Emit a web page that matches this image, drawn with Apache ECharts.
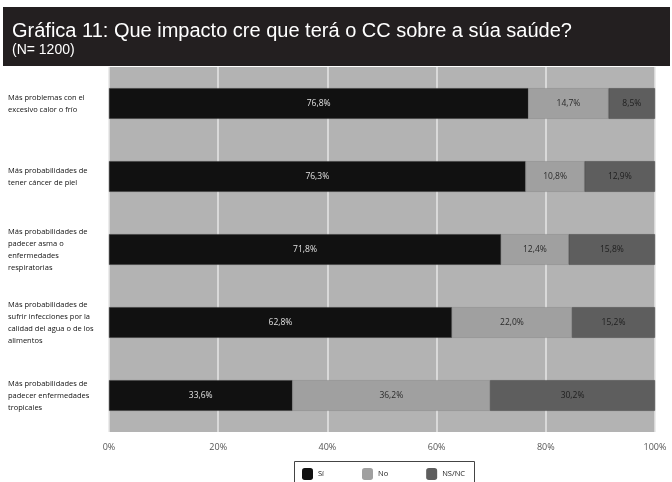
<!DOCTYPE html>
<html>
<head>
<meta charset="utf-8">
<script src="https://cdn.jsdelivr.net/npm/echarts@6/dist/echarts.min.js"></script>
<style>html,body{margin:0;padding:0;background:#fff}#c{width:672px;height:482px}</style>
</head>
<body>
<div id="c"></div>
<script>
var categories = [
  'Más problemas con el\nexcesivo calor o frío',
  'Más probabilidades de\ntener cáncer de piel',
  'Más probabilidades de\npadecer asma o\nenfermedades\nrespiratorias',
  'Más probabilidades de\nsufrir infecciones por la\ncalidad del agua o de los\nalimentos',
  'Más probabilidades de\npadecer enfermedades\ntropicales'
];
var si = [76.8, 76.3, 71.8, 62.8, 33.6];
var no = [14.7, 10.8, 12.4, 22.0, 36.2];
var nsnc = [8.5, 12.9, 15.8, 15.2, 30.2];
var xTicks = [0, 20, 40, 60, 80, 100];

var chart = echarts.init(document.getElementById('c'));
function lbl(color) {
  return {
    show: true, position: 'inside', color: color,
    fontFamily: 'Open Sans', fontSize: 8.5,
    formatter: function (p) { return p.value.toFixed(1).replace('.', ',') + '%'; }
  };
}
chart.setOption({
  animation: false,
  backgroundColor: '#fff',
  graphic: [
    { type: 'rect', left: 3, top: 7, shape: { width: 667, height: 59 }, style: { fill: '#231f20' } },
    { type: 'text', left: 12, top: 21, style: { text: 'Gráfica 11: Que impacto cre que terá o CC sobre a súa saúde?', fill: '#fff', font: '20px "Liberation Sans", Arial, sans-serif' } },
    { type: 'text', left: 12, top: 43, style: { text: '(N= 1200)', fill: '#fff', font: '14px "Liberation Sans", Arial, sans-serif' } },
    { type: 'rect', left: 292, top: 459, shape: { width: 180, height: 21 }, style: { fill: 'none', stroke: '#444', lineWidth: 1 } }
  ],
  grid: { left: 109, right: 17, top: 67, bottom: 50, show: true, backgroundColor: '#b3b3b3', borderWidth: 0 },
  legend: {
    top: 463, left: 297, itemWidth: 11, itemHeight: 12, itemGap: 38,
    textStyle: { fontFamily: 'Open Sans', fontSize: 7.5, color: '#222' },
    itemStyle: { borderWidth: 0 },
    data: ['Sí', 'No', 'NS/NC']
  },
  xAxis: {
    type: 'value', min: 0, max: 100, interval: 20,
    axisLine: { show: false }, axisTick: { show: false },
    splitLine: { lineStyle: { color: '#e6e6e6', width: 1.5 } },
    axisLabel: { fontFamily: 'Open Sans', fontSize: 9, color: '#555', margin: 11,
      formatter: function (v) { return xTicks.indexOf(v) >= 0 ? v + '%' : ''; } }
  },
  yAxis: {
    type: 'category', inverse: true, data: categories,
    axisLine: { show: false }, axisTick: { show: false },
    axisLabel: { fontFamily: 'Open Sans', fontSize: 7.5, color: '#111', align: 'left', margin: 101, lineHeight: 12 }
  },
  series: [
    { name: 'Sí', type: 'bar', stack: 't', data: si, barWidth: '42%', itemStyle: { color: '#111', borderColor: '#333', borderWidth: 0.5 }, label: lbl('#e0e0e0') },
    { name: 'No', type: 'bar', stack: 't', data: no, itemStyle: { color: '#a0a0a0', borderColor: '#888', borderWidth: 0.5 }, label: lbl('#2a2a2a') },
    { name: 'NS/NC', type: 'bar', stack: 't', data: nsnc, itemStyle: { color: '#5e5e5e', borderColor: '#444', borderWidth: 0.5 }, label: lbl('#1e1e1e') }
  ]
});
</script>
</body>
</html>
